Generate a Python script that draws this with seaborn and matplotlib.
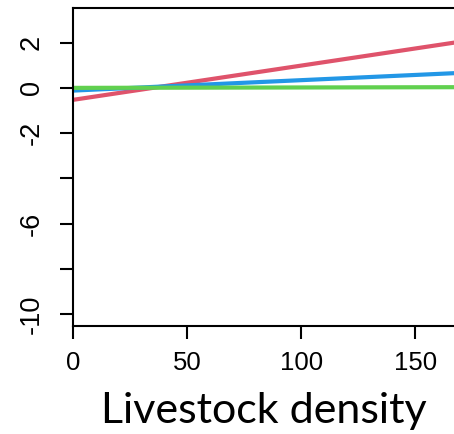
import matplotlib
matplotlib.use("Agg")
import matplotlib.pyplot as plt
import pandas as pd
import seaborn as sns

# fitted lines, read at the left edge (0) and the right edge of the picture
x_vals = [0, 167]
red_vals = [-0.53, 2.0]
blue_vals = [-0.12, 0.65]
green_vals = [0.0, 0.03]

y_ticks = [2, 0, -2, -4, -6, -8, -10]
y_labels = ["2", "0", "-2", "", "-6", "", "-10"]
x_ticks = [0, 50, 100, 150]

df = pd.DataFrame({
    "x": x_vals * 3,
    "y": red_vals + blue_vals + green_vals,
    "grp": ["red"] * 2 + ["blue"] * 2 + ["green"] * 2,
})

fig = plt.figure(figsize=(4.54, 4.34), dpi=100)
ax = fig.add_axes([73 / 454, 1 - 325.7 / 434, 1 - 73 / 454, (325.7 - 8.3) / 434])

sns.lineplot(data=df, x="x", y="y", hue="grp", ax=ax, legend=False,
             palette={"red": "#DF536B", "blue": "#2297E6", "green": "#61D04F"},
             linewidth=3.0)

ax.set_xlim(0, 167)
ax.set_ylim(-10.52, 3.52)
ax.spines["right"].set_visible(False)
for s in ["left", "bottom", "top"]:
    ax.spines[s].set_linewidth(1.5)

ax.set_xticks(x_ticks)
ax.set_xticklabels([str(t) for t in x_ticks], fontfamily="Liberation Sans", fontsize=18.5)
ax.set_yticks(y_ticks)
ax.set_yticklabels(y_labels, fontfamily="Liberation Sans", fontsize=19.5,
                   rotation=90, va="center")
ax.tick_params(axis="both", length=9.5, width=1.5, direction="out")
ax.tick_params(axis="x", pad=9)
ax.tick_params(axis="y", pad=11)

ax.set_xlabel("Livestock density", fontfamily="Lato", fontsize=31, labelpad=12)
ax.set_ylabel("")

fig.savefig("out.png", dpi=100)
